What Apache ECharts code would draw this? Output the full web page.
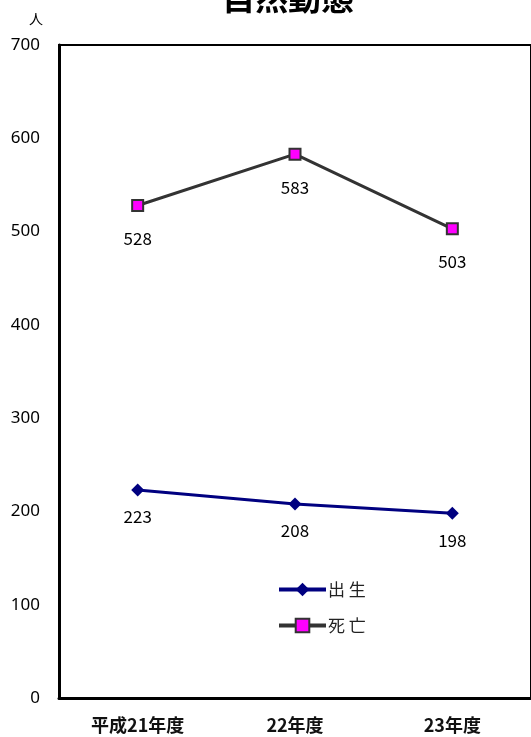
<!DOCTYPE html>
<html><head><meta charset="utf-8">
<script src="https://cdn.jsdelivr.net/npm/echarts@6/dist/echarts.min.js"></script>
<style>html,body{margin:0;padding:0;background:#fff}#c{width:531px;height:737px}</style>
</head><body><div id="c"></div>
<script>
const categories = ['平成21年度', '22年度', '23年度'];
const births = [223, 208, 198];
const deaths = [528, 583, 503];
const yTicks = [0, 100, 200, 300, 400, 500, 600, 700];

const chart = echarts.init(document.getElementById('c'));
const F = '"Noto Sans CJK JP", "Noto Sans", sans-serif';
chart.setOption({
  animation: false,
  title: { text: '自然動態', left: 217, top: -24, textStyle: { fontFamily: F, fontSize: 33, fontWeight: 'bold', color: '#000' } },
  grid: { left: 59, right: -2, top: 45, bottom: 39, show: true, borderColor: '#000', borderWidth: 2 },
  legend: {
    orient: 'vertical', left: 272, top: 576, itemWidth: 47, itemHeight: 17, itemGap: 19,
    lineStyle: { width: 4 },
    formatter: n => n.split('').join(' '),
    textStyle: { fontFamily: F, fontSize: 17, color: '#222', padding: [0, 0, 0, -3] },
    data: ['出生', '死亡']
  },
  xAxis: {
    type: 'category', data: categories, boundaryGap: true,
    axisLine: { lineStyle: { color: '#000', width: 3 } },
    axisTick: { show: false },
    axisLabel: { fontFamily: F, fontSize: 18, fontWeight: 'bold', color: '#111', margin: 18 }
  },
  yAxis: {
    type: 'value', min: yTicks[0], max: yTicks[yTicks.length - 1], interval: 100,
    name: '人', nameLocation: 'end', nameGap: 19,
    nameTextStyle: { fontFamily: F, fontSize: 14, color: '#000', align: 'right', padding: [0, 16, 0, 0] },
    axisLine: { show: true, lineStyle: { color: '#000', width: 3 } },
    axisTick: { show: false },
    splitLine: { show: false },
    axisLabel: { fontFamily: '"Noto Sans", sans-serif', fontSize: 17, color: '#000', margin: 19 }
  },
  series: [
    {
      name: '出生', type: 'line', data: births,
      symbol: 'diamond', symbolSize: 13,
      lineStyle: { color: '#000080', width: 3 },
      itemStyle: { color: '#000080' },
      label: { show: true, position: 'bottom', distance: 12, fontFamily: F, fontSize: 17, color: '#000' }
    },
    {
      name: '死亡', type: 'line', data: deaths,
      symbol: 'rect', symbolSize: 11,
      lineStyle: { color: '#333333', width: 3 },
      itemStyle: { color: '#ff00ff', borderColor: '#333333', borderWidth: 2 },
      label: { show: true, position: 'bottom', distance: 18, fontFamily: F, fontSize: 17, color: '#000' }
    }
  ]
});
</script>
</body></html>
